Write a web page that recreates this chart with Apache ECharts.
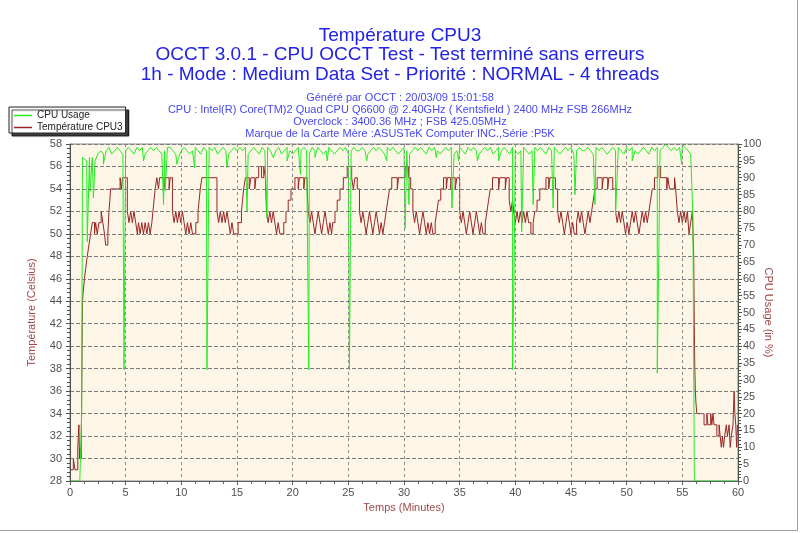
<!DOCTYPE html>
<html><head><meta charset="utf-8">
<script src="https://cdn.jsdelivr.net/npm/echarts@6/dist/echarts.min.js"></script>
<style>html,body{margin:0;padding:0;background:#fff}#c{width:800px;height:533px}</style>
</head><body><div id="c"></div>
<script>
const titleLines = [
  'Température CPU3',
  'OCCT 3.0.1 - CPU OCCT Test - Test terminé sans erreurs',
  '1h - Mode : Medium Data Set - Priorité : NORMAL - 4 threads'
];
const infoLines = [
  'Généré par OCCT : 20/03/09 15:01:58',
  'CPU : Intel(R) Core(TM)2 Quad CPU Q6600 @ 2.40GHz ( Kentsfield ) 2400 MHz FSB 266MHz',
  'Overclock : 3400.36 MHz ; FSB 425.05MHz',
  'Marque de la Carte Mère :ASUSTeK Computer INC.,Série :P5K'
];
const seriesNames = ['CPU Usage', 'Température CPU3'];
const axisNames = ['Temps (Minutes)', 'Température (Celsius)', 'CPU Usage (in %)'];

// temperature change points [minute, °C]
const tempPoints = [
[0,29],[0.3,30],[0.45,29],[0.7,31],[0.8,33],[0.85,30],[0.92,31],[1.0,30],
[1.12,44],[1.2,45],[1.3,46],[1.42,47],[1.55,48],[1.7,49],[1.85,50],[2.0,51],
[2.2,50],[2.3,51],[2.45,50],[2.6,51],[2.8,52],[2.95,51],[3.1,50],[3.2,49],[3.4,50],
[3.5,52],[3.58,53],[3.65,54],[4.5,55],[4.62,54],[4.72,55],
[5.15,52],[5.3,51],[5.45,52],[5.6,51],[5.75,52],[5.9,51],[6.05,50],[6.15,51],[6.3,50],[6.45,51],[6.6,50],[6.75,51],[6.9,50],[7.05,51],[7.2,50],[7.35,51],
[7.45,52],[7.55,53],[7.65,54],[7.8,55],[7.95,54],[8.05,55],[8.45,54],[8.55,55],[8.9,54],[9.0,55],
[9.2,52],[9.35,51],[9.5,52],[9.65,51],[9.8,52],[9.95,51],[10.1,52],[10.25,51],[10.4,50],[10.55,51],[10.7,50],[10.85,51],[11.0,50],[11.3,51],
[11.5,52],[11.6,53],[11.7,54],[11.85,55],
[13.2,52],[13.35,51],[13.5,52],[13.65,51],[13.8,52],[13.95,51],[14.1,52],[14.25,51],[14.4,50],[14.55,51],[14.7,50],[15.1,51],
[15.4,52],[15.5,53],[15.6,54],[15.75,55],[16.1,54],[16.25,55],[16.6,54],[16.7,55],[16.95,56],[17.2,55],[17.4,56],[17.55,55],
[17.65,52],[17.8,51],[17.95,52],[18.1,51],[18.25,52],[18.4,51],[18.55,50],[18.7,51],[18.85,50],
[19.2,51],[19.4,52],[19.6,53],[19.85,54],[20.2,55],[20.5,54],[20.6,55],[21.0,54],[21.1,55],[21.3,54],
[21.4,52],[21.55,51],[21.7,52],[21.85,51],[22.0,50],[22.15,51],[22.3,52],[22.45,51],[22.6,50],[22.75,51],[22.9,52],[23.05,51],[23.2,50],[23.35,51],[23.5,50],
[23.6,51],[23.8,52],[24.0,53],[24.25,54],[24.55,55],[24.9,56],[25.3,55],[25.45,54],[25.6,55],[25.8,54],
[26.0,52],[26.15,51],[26.3,52],[26.45,51],[26.6,50],[26.75,51],[26.9,52],[27.05,51],[27.2,50],[27.35,51],[27.5,52],[27.65,51],[27.8,50],[27.95,51],[28.1,50],[28.25,51],[28.4,52],
[28.55,53],[28.7,54],[28.9,55],[29.4,54],[29.5,55],[30.1,56],[30.4,55],[30.6,54],
[30.8,52],[30.95,51],[31.1,52],[31.25,51],[31.4,50],[31.55,51],[31.7,52],[31.85,51],[32.0,50],[32.15,51],[32.3,50],[32.45,51],[32.6,50],[32.8,51],
[32.95,52],[33.1,53],[33.3,54],[33.55,55],[33.8,54],[33.9,55],[34.2,54],[34.3,55],[34.6,54],[34.75,55],
[35.0,52],[35.15,51],[35.3,52],[35.45,51],[35.6,50],[35.75,51],[35.9,52],[36.05,51],[36.2,50],[36.35,51],[36.5,52],[36.65,51],[36.8,50],[36.95,51],[37.1,50],[37.3,51],
[37.45,52],[37.6,53],[37.75,54],[37.95,55],[38.5,54],[38.6,55],[39.1,54],[39.2,55],
[39.45,53],[39.6,52],[39.75,53],[39.85,52],[40.0,51],[40.15,52],[40.3,51],[40.45,52],[40.6,51],[40.75,52],[40.9,51],[41.05,52],[41.2,51],[41.4,50],
[41.6,51],[41.75,52],[41.95,53],[42.2,54],[42.75,55],[43.0,54],[43.1,55],[43.6,54],
[43.8,52],[43.95,51],[44.1,52],[44.25,51],[44.4,50],[44.55,51],[44.7,52],[44.85,51],[45.0,50],[45.15,51],[45.3,50],[45.5,51],[45.65,52],[45.8,51],[45.95,52],[46.1,51],[46.25,50],[46.4,51],[46.55,52],[46.7,51],[46.85,52],
[47.0,53],[47.15,54],[47.35,55],[47.8,54],[47.9,55],[48.3,54],[48.4,55],[48.75,54],
[49.0,52],[49.15,51],[49.3,52],[49.45,51],[49.6,52],[49.75,51],[49.9,50],[50.05,51],[50.2,50],[50.35,51],[50.5,52],[50.65,51],[50.8,52],[50.95,51],[51.1,50],[51.25,51],[51.4,52],[51.55,51],[51.7,52],[51.85,51],[52.0,52],
[52.15,53],[52.3,54],[52.5,55],[52.8,56],[53.05,55],[53.6,54],[53.7,55],[53.85,54],[54.3,55],[54.4,54],
[54.55,52],[54.7,51],[54.85,52],[55.0,51],[55.15,52],[55.3,51],[55.45,52],[55.6,50],[55.75,51],[55.9,52],
[56.02,48],[56.07,42],[56.12,38],[56.17,36],[56.22,35],[56.3,34],
[56.95,33],[57.2,34],[57.3,33],[57.55,34],[57.65,33],[57.75,34],[57.85,33],[58.1,32],[58.3,33],[58.4,32],[58.5,31],[58.6,32],[58.7,31],[58.8,32],[58.95,33],[59.05,32],[59.2,33],[59.3,31],[59.4,32],[59.55,33],[59.65,36],[59.72,34],[59.8,33],[59.88,31],[59.95,33],[60,33]
];

// CPU usage
const cpuStart = [[0,0],[0.88,0],[0.95,8],[1.05,20],[1.12,96]];
const cpuBaseFrom = 1.25, cpuBaseStep = 0.25;
const cpuBase = [
96,95,96,96,95,97,98,97,98,99,97,98,99,98,97,98,99,98,97,99,
98,99,97,98,99,98,99,98,97,98,99,99,98,97,96,98,99,98,97,98,
99,98,97,99,98,99,98,99,97,98,99,98,97,98,99,98,99,98,99,97,
98,99,98,97,99,98,99,98,96,98,99,97,98,99,98,97,98,99,98,99,
98,97,99,98,99,98,97,98,99,98,97,98,99,98,99,97,98,99,98,98,
99,98,97,98,99,98,99,98,97,99,98,99,98,97,98,99,98,97,98,99,
98,99,98,97,99,98,99,98,97,98,99,98,99,97,98,99,98,97,99,98,
99,98,97,98,99,98,99,97,98,99,98,99,98,97,99,98,97,98,99,98,
97,98,99,98,99,98,97,99,98,99,98,97,98,99,98,99,97,98,99,98,
98,99,98,97,99,98,99,98,97,98,99,98,99,98,97,99,98,99,98,97,
98,99,98,97,99,98,99,98,99,100,99,98,99,98,99,100,99,98,97
];
const cpuDips = [
[1.55,71],[1.8,86],[2.1,84],[3.0,94],[4.85,33],[6.6,95],[8.4,82],[8.55,86],[9.6,94],[11.2,93],
[12.3,33],[14.1,93],[15.9,80],[17.7,78],[19.5,95],[20.7,91],[21.45,33],[22.0,96],[23.1,95],[25.1,33],
[26.65,95],[28.45,95],[30.1,75],[30.45,82],[32.9,96],[34.3,81],[34.9,95],[36.6,95],[38.5,95],[39.75,33],
[39.9,66],[40.57,74],[41.6,82],[43.4,81],[45.36,85],[47.15,82],[49.0,79],[50.5,95],[52.75,32],[54.94,94]
];
const cpuEnd = [[55.85,88],[55.95,78],[56.08,0],[60,0]];

const cpuData = cpuStart
  .concat(cpuBase.map((v, i) => [cpuBaseFrom + i * cpuBaseStep, v]))
  .concat(cpuDips)
  .concat(cpuEnd)
  .sort((a, b) => a[0] - b[0]);

const FONT = 'Liberation Sans';
const TITLE_C = '#2222e6', INFO_C = '#4848f0', NAME_C = '#a04848', LAB_C = '#505050';

const titles = titleLines.map((t, i) => ({
  text: t, left: 'center', top: 26 + i * 19.5, padding: 0,
  textStyle: {fontFamily: FONT, fontSize: 19, fontWeight: 'normal', color: TITLE_C}
})).concat(infoLines.map((t, i) => ({
  text: t, left: 'center', top: 92 + i * 12, padding: 0,
  textStyle: {fontFamily: FONT, fontSize: 11, fontWeight: 'normal', color: INFO_C}
})));

const chart = echarts.init(document.getElementById('c'), null, {renderer: 'canvas'});
chart.setOption({
  animation: false,
  backgroundColor: '#ffffff',
  title: titles,
  legend: {
    orient: 'vertical', left: 9, top: 107,
    data: [{name: seriesNames[0]}, {name: seriesNames[1]}],
    icon: 'rect', itemWidth: 18, itemHeight: 1.5, itemGap: 1,
    textStyle: {fontFamily: FONT, fontSize: 10, color: '#222', lineHeight: 11},
    backgroundColor: '#fff', borderColor: '#222', borderWidth: 1,
    padding: [3, 3, 0, 5],
    shadowColor: 'rgba(0,0,0,0.75)', shadowOffsetX: 3, shadowOffsetY: 3, shadowBlur: 1
  },
  grid: {
    left: 70, right: 62, top: 144, bottom: 52, show: true,
    backgroundColor: '#fdf6e6', borderColor: '#8a8a8a', borderWidth: 1
  },
  xAxis: {
    type: 'value', min: 0, max: 60, interval: 5, z: 10,
    name: axisNames[0], nameLocation: 'middle', nameGap: 21,
    nameTextStyle: {fontFamily: FONT, fontSize: 11, color: NAME_C},
    axisLine: {lineStyle: {color: '#606060'}},
    axisTick: {length: 4, lineStyle: {color: '#606060'}},
    minorTick: {show: true, splitNumber: 4, length: 3, lineStyle: {color: '#606060'}},
    axisLabel: {fontFamily: FONT, fontSize: 11, color: LAB_C, margin: 6},
    splitLine: {show: true, lineStyle: {color: '#8c8c8c', type: [3, 3]}}
  },
  yAxis: [{
    type: 'value', min: 28, max: 58, interval: 2, position: 'left', z: 10,
    name: axisNames[1], nameLocation: 'middle', nameGap: 33, nameRotate: 90, nameMoveOverlap: false,
    nameTextStyle: {fontFamily: FONT, fontSize: 11, color: NAME_C},
    axisLine: {show: true, lineStyle: {color: '#505050'}},
    axisTick: {show: true, length: 4, lineStyle: {color: '#505050'}},
    minorTick: {show: true, splitNumber: 5, length: 3, lineStyle: {color: '#505050'}},
    axisLabel: {fontFamily: FONT, fontSize: 11, color: LAB_C, margin: 8},
    splitLine: {show: true, lineStyle: {color: '#7c7c7c', type: [4, 2]}}
  }, {
    type: 'value', min: 0, max: 100, interval: 5, position: 'right', z: 10,
    name: axisNames[2], nameLocation: 'middle', nameGap: 25, nameRotate: -90, nameMoveOverlap: false,
    nameTextStyle: {fontFamily: FONT, fontSize: 11, color: NAME_C},
    axisLine: {show: true, lineStyle: {color: '#505050'}},
    axisTick: {show: true, length: 4, lineStyle: {color: '#505050'}},
    minorTick: {show: true, splitNumber: 5, length: 3, lineStyle: {color: '#505050'}},
    axisLabel: {fontFamily: FONT, fontSize: 11, color: LAB_C, margin: 5},
    splitLine: {show: false}
  }],
  series: [{
    name: seriesNames[1], type: 'line', yAxisIndex: 0, data: tempPoints,
    step: 'end', symbol: 'none', showSymbol: false,
    lineStyle: {width: 1, color: '#9a2424'}, itemStyle: {color: '#9a2424'}
  }, {
    name: seriesNames[0], type: 'line', yAxisIndex: 1, data: cpuData,
    symbol: 'none', showSymbol: false,
    lineStyle: {width: 1, color: '#22ec22'}, itemStyle: {color: '#22ec22'}
  }],
  graphic: [
    {type: 'line', shape: {x1: 797.5, y1: 0, x2: 797.5, y2: 531}, style: {stroke: '#a0a0a0', lineWidth: 1}},
    {type: 'line', shape: {x1: 0, y1: 530.5, x2: 798, y2: 530.5}, style: {stroke: '#a0a0a0', lineWidth: 1}}
  ]
});
</script></body></html>
